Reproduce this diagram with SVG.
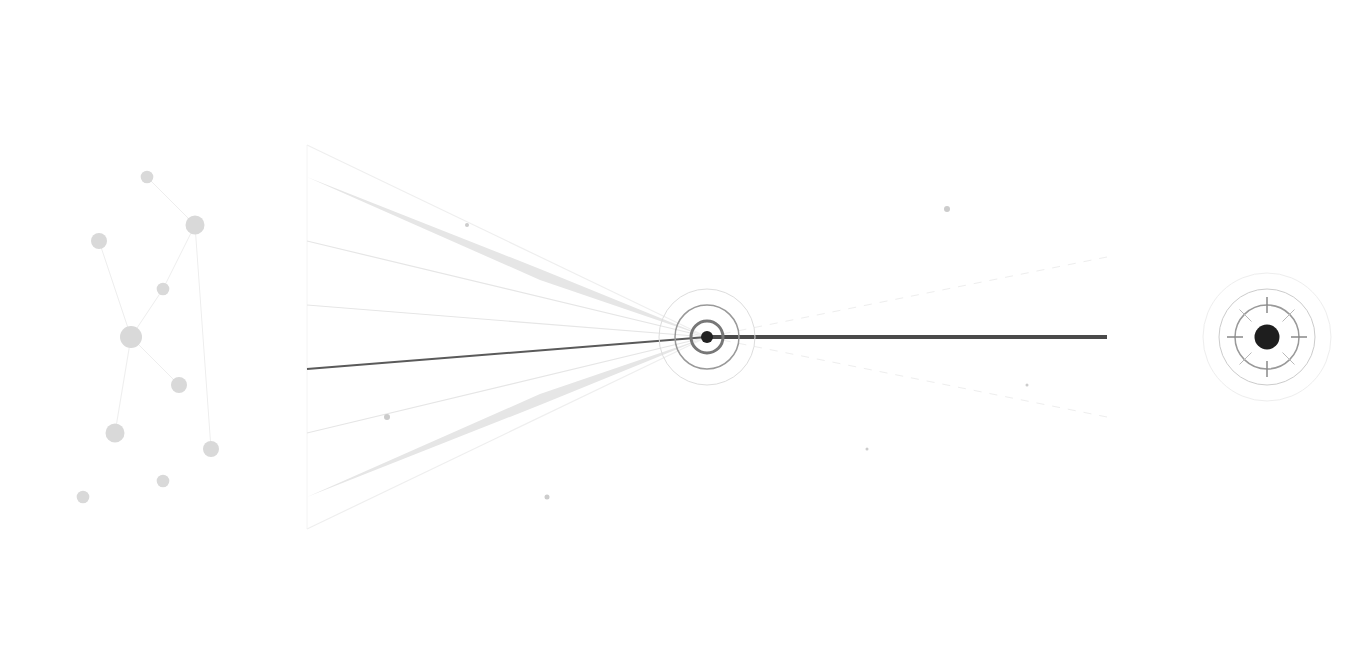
<svg xmlns="http://www.w3.org/2000/svg" width="1363" height="660" viewBox="0 0 1363 660">
<style>
.nd{fill:#d9d9d9}
.ne{stroke:#eeeeee;stroke-width:1;fill:none}
.ray{stroke:#e6e6e6;stroke-width:1.2;fill:none}
.ray2{stroke:#efefef;stroke-width:1.2;fill:none}
.wedge{fill:#e6e6e6}
.dot{fill:#cccccc}
.dash{stroke:#eeeeee;stroke-width:1;stroke-dasharray:8 8;fill:none}
</style>
<rect width="1363" height="660" fill="#ffffff"/>
<g id="network">
<g class="ne">
<line x1="147" y1="177" x2="195" y2="225"/>
<line x1="195" y1="225" x2="163" y2="289"/>
<line x1="163" y1="289" x2="131" y2="337"/>
<line x1="99" y1="241" x2="131" y2="337"/>
<line x1="131" y1="337" x2="179" y2="385"/>
<line x1="131" y1="337" x2="115" y2="433"/>
<line x1="195" y1="225" x2="211" y2="449"/>
</g>
<circle class="nd" cx="147" cy="177" r="6.3"/>
<circle class="nd" cx="195" cy="225" r="9.5"/>
<circle class="nd" cx="99" cy="241" r="8"/>
<circle class="nd" cx="163" cy="289" r="6.3"/>
<circle class="nd" cx="131" cy="337" r="11"/>
<circle class="nd" cx="179" cy="385" r="8"/>
<circle class="nd" cx="115" cy="433" r="9.5"/>
<circle class="nd" cx="211" cy="449" r="8"/>
<circle class="nd" cx="163" cy="481" r="6.3"/>
<circle class="nd" cx="83" cy="497" r="6.3"/>
</g>
<g id="connectors">
<line x1="307" y1="145" x2="307" y2="529" stroke="#f4f4f4" stroke-width="1"/>
<line class="ray2" x1="307" y1="145" x2="707" y2="337"/>
<line class="ray" x1="307" y1="241" x2="707" y2="337"/>
<line class="ray" x1="307" y1="305" x2="707" y2="337"/>
<line class="ray" x1="307" y1="433" x2="707" y2="337"/>
<line class="ray2" x1="307" y1="529" x2="707" y2="337"/>
<polygon class="wedge" points="307,177 540,269 707,337 540,280"/>
<polygon class="wedge" points="307,497 540,394 707,337 540,405"/>
<line x1="307" y1="369" x2="707" y2="337" stroke="#5a5a5a" stroke-width="2"/>
<line class="dash" x1="707" y1="337" x2="1107" y2="257"/>
<line class="dash" x1="707" y1="337" x2="1107" y2="417"/>
<line x1="707" y1="337" x2="1107" y2="337" stroke="#4a4a4a" stroke-width="4"/>
</g>
<g id="particles">
<circle class="dot" cx="467" cy="225" r="2"/>
<circle class="dot" cx="387" cy="417" r="3"/>
<circle class="dot" cx="547" cy="497" r="2.5"/>
<circle class="dot" cx="947" cy="209" r="3"/>
<circle class="dot" cx="1027" cy="385" r="1.5"/>
<circle class="dot" cx="867" cy="449" r="1.5"/>
</g>
<g id="hub">
<circle cx="707" cy="337" r="48" fill="none" stroke="#dddddd" stroke-width="1"/>
<circle cx="707" cy="337" r="32" fill="none" stroke="#999999" stroke-width="1.5"/>
<circle cx="707" cy="337" r="16" fill="none" stroke="#777777" stroke-width="3"/>
<circle cx="707" cy="337" r="6" fill="#222222"/>
</g>
<g id="target">
<circle cx="1267" cy="337" r="64" fill="none" stroke="#eeeeee" stroke-width="1"/>
<circle cx="1267" cy="337" r="48" fill="none" stroke="#cccccc" stroke-width="1"/>
<circle cx="1267" cy="337" r="32" fill="none" stroke="#999999" stroke-width="1.5"/>
<g stroke="#888888" stroke-width="1.5">
<line x1="1267" y1="297" x2="1267" y2="313"/>
<line x1="1267" y1="361" x2="1267" y2="377"/>
<line x1="1227" y1="337" x2="1243" y2="337"/>
<line x1="1291" y1="337" x2="1307" y2="337"/>
</g>
<g stroke="#bbbbbb" stroke-width="1">
<line x1="1239.5" y1="309.5" x2="1251.5" y2="321.5"/>
<line x1="1294.5" y1="309.5" x2="1282.5" y2="321.5"/>
<line x1="1239.5" y1="364.5" x2="1251.5" y2="352.5"/>
<line x1="1294.5" y1="364.5" x2="1282.5" y2="352.5"/>
</g>
<circle cx="1267" cy="337" r="12.5" fill="#1e1e1e"/>
</g>
</svg>
